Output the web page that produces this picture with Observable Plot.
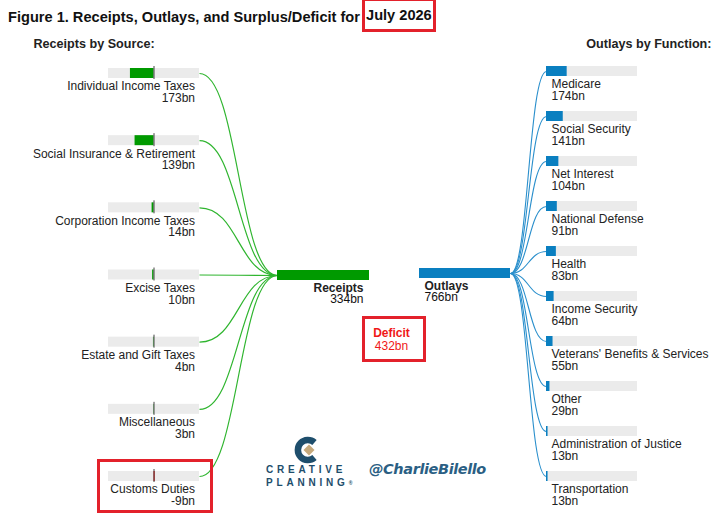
<!DOCTYPE html>
<html><head><meta charset="utf-8">
<script src="https://cdn.jsdelivr.net/npm/d3@7"></script>
<script src="https://cdn.jsdelivr.net/npm/@observablehq/plot@0.6"></script>
<style>
body{margin:0;background:#fff;font-family:"Liberation Sans",Arial,sans-serif;}
#wrap{position:relative;width:726px;height:517px;overflow:hidden;background:#fff}
#title{position:absolute;left:8px;top:0;height:36px;font-weight:bold;font-size:14.6px;color:#111;white-space:nowrap;line-height:34px}
#title span{display:inline-block;border:3px solid #e3212b;padding:6px 1px 5px 1px;line-height:17px;vertical-align:top;margin-top:-2px;margin-left:-2px}
#chart{position:absolute;left:0;top:36px}
.cp{position:absolute;left:266px;font-weight:bold;font-size:10px;letter-spacing:3.8px;color:#1e4e6c;line-height:12px}
#handle{position:absolute;left:369px;top:460px;font-style:italic;font-weight:bold;font-size:14.5px;color:#2b5f84;line-height:18px;font-family:"DejaVu Sans","Liberation Sans",sans-serif;letter-spacing:-0.4px}
#icon{position:absolute;left:294px;top:436px}
</style>
</head><body>
<div id="wrap">
  <div id="title">Figure 1. Receipts, Outlays, and Surplus/Deficit for <span id="month"></span></div>
  <div id="chart"></div>
  <svg id="icon" width="28" height="28" viewBox="0 0 28 28">
    <path d="M20.5 6.5 A10 10 0 1 0 20.5 21.5" fill="none" stroke="#1e4e6c" stroke-width="6.5"/>
    <path d="M15 8.5 L20.5 14 L15 19.5 L9.5 14 Z" fill="#c5a97c"/>
  </svg>
  <div class="cp" style="top:464px">CREATIVE</div>
  <div class="cp" style="top:477px">PLANNING<span style="font-size:5px;letter-spacing:0;vertical-align:top">®</span></div>
  <div id="handle">@CharlieBilello</div>
</div>
<script>
// ---- Data ----
const reportMonth = "July 2026";
const receiptSources = ["Individual Income Taxes","Social Insurance & Retirement","Corporation Income Taxes","Excise Taxes","Estate and Gift Taxes","Miscellaneous","Customs Duties"];
const receiptValues = [173, 139, 14, 10, 4, 3, -9];
const outlayFunctions = ["Medicare","Social Security","Net Interest","National Defense","Health","Income Security","Veterans' Benefits & Services","Other","Administration of Justice","Transportation"];
const outlayValues = [174, 141, 104, 91, 83, 64, 55, 29, 13, 13];
const receiptsTotal = 334;
const outlaysTotal = 766;
const deficit = outlaysTotal - receiptsTotal;
const highlighted = "Customs Duties";

document.getElementById("month").textContent = reportMonth;

// ---- Layout ----
const GREEN = "#009a00", GREEN_LINK = "#2fb52f", BLUE = "#0a7fc0", BLUE_LINK = "#2a8fcc", GREY = "#ebebeb", RED = "#e3212b";
const leftRow = d3.scalePoint(receiptSources, [73, 476]);
const rightRow = d3.scalePoint(outlayFunctions, [71, 476]);
const leftBar = {x0: 108, x1: 199};
const rightBar = {x0: 546, x1: 637};
const lx = d3.scaleLinear([-receiptsTotal, receiptsTotal], [leftBar.x1, leftBar.x0]);
const rx = d3.scaleLinear([0, outlaysTotal], [rightBar.x0, rightBar.x1]);
const recBar = {x0: 277, x1: 369, y: 275};
const outBar = {x0: 419, x1: 510, y: 273};

const receipts = receiptSources.map((name, i) => ({name, value: receiptValues[i], y: leftRow(name)}));
const outlays = outlayFunctions.map((name, i) => ({name, value: outlayValues[i], y: rightRow(name)}));
const totals = [
  {name: "Receipts", value: receiptsTotal, x1: recBar.x0, x2: recBar.x1, y: recBar.y, fill: GREEN},
  {name: "Outlays", value: outlaysTotal, x1: outBar.x0, x2: outBar.x1, y: outBar.y, fill: BLUE}
];
const hl = receipts.find(d => d.name === highlighted);
const lbl = d => d.name + "\n" + d.value + "bn";

const font = "Liberation Sans, Arial, sans-serif";
const chart = Plot.plot({
  width: 726, height: 481, margin: 0,
  x: {domain: [0, 726], range: [0, 726], axis: null},
  y: {domain: [36, 517], range: [0, 481], axis: null},
  style: {fontFamily: font, background: "white", overflow: "visible"},
  marks: [
    // links
    Plot.link(receipts, {x1: leftBar.x1, y1: d => d.y, x2: recBar.x0, y2: recBar.y, curve: "bump-x", stroke: GREEN_LINK, strokeWidth: 1.2}),
    Plot.link(outlays, {x1: outBar.x1, y1: outBar.y, x2: rightBar.x0, y2: d => d.y, curve: "bump-x", stroke: BLUE_LINK, strokeWidth: 1.1}),
    // left bars
    Plot.rect(receipts, {x1: leftBar.x0, x2: leftBar.x1, y1: d => d.y - 5, y2: d => d.y + 5, fill: GREY}),
    Plot.rect(receipts, {x1: lx(0), x2: d => lx(d.value), y1: d => d.y - 5, y2: d => d.y + 5, fill: d => d.value >= 0 ? GREEN : "#e00000"}),
    Plot.ruleX(receipts, {x: lx(0), y1: d => d.y - 7, y2: d => d.y + 6, stroke: "#444", strokeWidth: 1}),
    Plot.text(receipts, {x: 194.5, y: d => d.y + 19, text: lbl, textAnchor: "end", lineHeight: 0.98, fontSize: 12, fill: "#222"}),
    // right bars
    Plot.rect(outlays, {x1: rightBar.x0, x2: rightBar.x1, y1: d => d.y - 5, y2: d => d.y + 5, fill: GREY}),
    Plot.rect(outlays, {x1: rx(0), x2: d => rx(d.value), y1: d => d.y - 5, y2: d => d.y + 5, fill: BLUE}),
    Plot.text(outlays, {x: 551, y: d => d.y + 19, text: lbl, textAnchor: "start", lineHeight: 0.98, fontSize: 12, fill: "#222"}),
    // totals
    Plot.rect(totals, {x1: "x1", x2: "x2", y1: d => d.y - 5, y2: d => d.y + 5, fill: "fill"}),
    Plot.text([totals[0]], {x: d => d.x2 - 6, y: d => d.y + 18.5, text: lbl, textAnchor: "end", lineHeight: 0.95, fontSize: 12, fill: "#111"}),
    Plot.text([totals[1]], {x: d => d.x1 + 5, y: d => d.y + 18.5, text: lbl, textAnchor: "start", lineHeight: 0.95, fontSize: 12, fill: "#111"}),
    // deficit
    Plot.rect([deficit], {x1: 363.5, x2: 424.5, y1: 317.5, y2: 360.5, stroke: RED, strokeWidth: 3, fill: "none"}),
    Plot.text([deficit], {x: 391, y: 338.5, text: d => (d >= 0 ? "Deficit" : "Surplus") + "\n" + Math.abs(d) + "bn", lineHeight: 1.15, fontSize: 12, fill: "#f01818"}),
    // highlight box
    Plot.rect([hl], {x1: 98.5, x2: 211.5, y1: d => d.y - 15.5, y2: d => d.y + 35.5, stroke: RED, strokeWidth: 3, fill: "none"}),
    // section heads
    Plot.text(["Receipts by Source:"], {x: 33, y: 43.5, text: d => d, textAnchor: "start", fontSize: 12.6, fontWeight: "bold", fill: "#222"}),
    Plot.text(["Outlays by Function:"], {x: 711, y: 43.5, text: d => d, textAnchor: "end", fontSize: 12.6, fontWeight: "bold", fill: "#222"})
  ]
});
// bold the first line of the total/deficit labels
d3.select(chart).selectAll("text").each(function() {
  const first = this.querySelector("tspan");
  if (first && ["Receipts", "Outlays", "Deficit", "Surplus"].includes(first.textContent)) {
    first.setAttribute("font-weight", "bold");
    if (first.textContent !== "Deficit" && first.textContent !== "Surplus") first.setAttribute("fill", "#222");
  }
});
document.getElementById("chart").append(chart);
</script>
</body></html>
